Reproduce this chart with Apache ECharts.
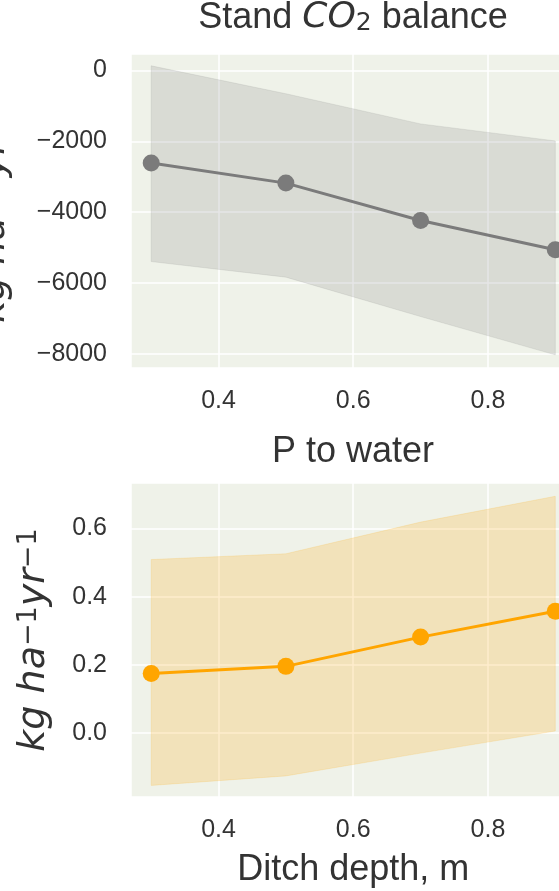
<!DOCTYPE html>
<html><head><meta charset="utf-8">
<script src="https://cdn.jsdelivr.net/npm/echarts@6/dist/echarts.min.js"></script>
<style>html,body{margin:0;padding:0;background:#fff}#c{width:559px;height:891px}</style>
</head><body><div id="c"></div>
<script>
// Data
const depth = [0.3, 0.5, 0.7, 0.9];
const co2Mean = [-2614, -3179, -4231, -5056];
const co2Upper = [127, -660, -1510, -1990];
const co2Lower = [-5390, -5830, -6940, -8020];
const pMean = [0.174, 0.195, 0.281, 0.357];
const pUpper = [0.509, 0.526, 0.619, 0.695];
const pLower = [-0.155, -0.127, -0.06, 0.005];
const xTicks = ['0.4', '0.6', '0.8'];

const TXT = '#333333';
const BG = '#EFF2E9';
const SANS = 'Liberation Sans, Arial, sans-serif';
const MATH = 'DejaVu Sans';

const chart = echarts.init(document.getElementById('c'), null, {renderer: 'canvas'});

function bandSeries(xi, upper, lower, fill, stroke) {
  return {
    type: 'custom', xAxisIndex: xi, yAxisIndex: xi, z: 1, silent: true,
    data: depth.map((d, i) => [d, lower[i], upper[i]]),
    encode: {x: 0, y: [1, 2]},
    renderItem: function (params, api) {
      if (params.dataIndex !== 0) return null;
      const pts = [];
      for (let i = 0; i < depth.length; i++) pts.push(api.coord([depth[i], upper[i]]));
      for (let i = depth.length - 1; i >= 0; i--) pts.push(api.coord([depth[i], lower[i]]));
      return {type: 'polygon', shape: {points: pts}, style: {fill: fill, stroke: stroke, lineWidth: 1}};
    }
  };
}
function lineSeries(xi, mean, color) {
  return {
    type: 'line', xAxisIndex: xi, yAxisIndex: xi, z: 3,
    data: depth.map((d, i) => [d, mean[i]]),
    symbol: 'circle', symbolSize: 17, showSymbol: true,
    lineStyle: {color: color, width: 3},
    itemStyle: {color: color},
    animation: false
  };
}
const fmtMinus = v => (v < 0 ? '\u2212' + Math.abs(v) : String(v));

const ylabelRich = {
  m: {fontFamily: MATH, fontStyle: 'italic', fontSize: 38, lineHeight: 38, color: TXT},
  s: {fontFamily: MATH, fontSize: 27, lineHeight: 27, verticalAlign: 'top', color: TXT}
};
const ylabelText = '{m|kg ha}{s|\u22121}{m|yr}{s|\u22121}';

function xAxis(gi, withName) {
  const ax = {
    type: 'value', gridIndex: gi, min: 0.27, max: 0.93, splitNumber: 3,
    axisLine: {show: false}, axisTick: {show: false},
    splitLine: {show: true, lineStyle: {color: '#ffffff', width: 1.5}},
    axisLabel: {fontFamily: SANS, fontSize: 25, color: TXT, margin: 21,
      showMinLabel: false, showMaxLabel: false,
      formatter: v => v.toFixed(1)}
  };
  if (withName) {
    ax.name = 'Ditch depth, m';
    ax.nameLocation = 'middle';
    ax.nameGap = 55;
    ax.nameTextStyle = {fontFamily: SANS, fontSize: 36, color: TXT};
  }
  return ax;
}

const option = {
  backgroundColor: '#ffffff',
  animation: false,
  grid: [
    {left: 131, top: 54, width: 444.5, height: 314, show: true, backgroundColor: BG, borderWidth: 0,
      containLabel: false, outerBoundsMode: 'none'},
    {left: 131, top: 483, width: 444.5, height: 314, show: true, backgroundColor: BG, borderWidth: 0,
      containLabel: false, outerBoundsMode: 'none'}
  ],
  xAxis: [xAxis(0, false), xAxis(1, true)],
  yAxis: [
    {type: 'value', gridIndex: 0, min: -8390, max: 460, splitNumber: 5,
      axisLine: {show: false}, axisTick: {show: false},
      splitLine: {show: true, lineStyle: {color: '#ffffff', width: 1.5}},
      axisLabel: {fontFamily: SANS, fontSize: 25, color: TXT, margin: 24,
        showMinLabel: false, showMaxLabel: false, formatter: fmtMinus},
      name: ylabelText, nameLocation: 'middle', nameRotate: 90, nameGap: 118,
      nameTextStyle: {rich: ylabelRich}
    },
    {type: 'value', gridIndex: 1, min: -0.189, max: 0.734, splitNumber: 5,
      axisLine: {show: false}, axisTick: {show: false},
      splitLine: {show: true, lineStyle: {color: '#ffffff', width: 1.5}},
      axisLabel: {fontFamily: SANS, fontSize: 25, color: TXT, margin: 24,
        showMinLabel: false, showMaxLabel: false, formatter: v => v.toFixed(1)},
      name: ylabelText, nameLocation: 'middle', nameRotate: 90, nameGap: 78,
      nameTextStyle: {rich: ylabelRich}
    }
  ],
  graphic: [
    {type: 'text', x: 353, y: 0, z: 10, style: {
      text: '{a|Stand }{b|CO}{c|2}{a| balance}', align: 'center', verticalAlign: 'top',
      rich: {
        a: {fontFamily: SANS, fontSize: 36, lineHeight: 36, fill: TXT, color: TXT},
        b: {fontFamily: MATH, fontStyle: 'italic', fontSize: 36, lineHeight: 36, fill: TXT, color: TXT},
        c: {fontFamily: MATH, fontSize: 25, lineHeight: 15, verticalAlign: 'bottom', fill: TXT, color: TXT}
      }}},
    {type: 'text', x: 353, y: 434, z: 10, style: {
      text: 'P to water', align: 'center', verticalAlign: 'top',
      font: '36px ' + SANS, fill: TXT}}
  ],
  series: [
    bandSeries(0, co2Upper, co2Lower, 'rgba(128,128,128,0.2)', 'rgba(128,128,128,0.15)'),
    lineSeries(0, co2Mean, '#7b7b7b'),
    bandSeries(1, pUpper, pLower, 'rgba(255,165,0,0.2)', 'rgba(255,165,0,0.15)'),
    lineSeries(1, pMean, '#FFA500')
  ]
};
chart.setOption(option);
</script>
</body></html>
